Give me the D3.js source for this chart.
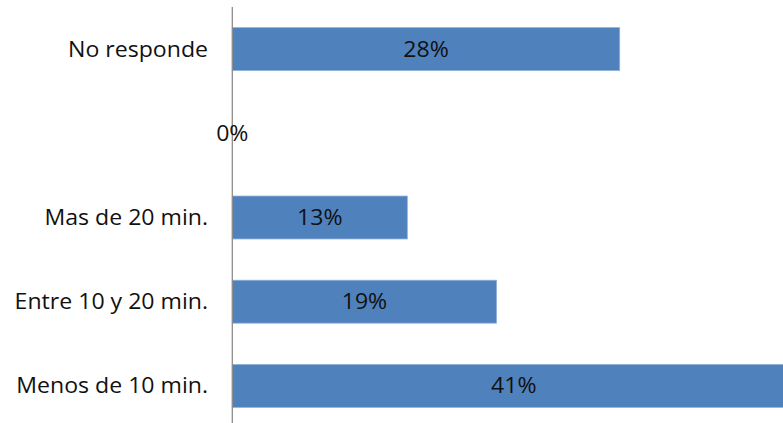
<!DOCTYPE html>
<html>
<head>
<meta charset="utf-8">
<script src="https://cdn.jsdelivr.net/npm/d3@7"></script>
<style>
  html, body { margin: 0; padding: 0; background: #fff; }
  svg { display: block; }
  text { font-family: "Open Sans", Lato, sans-serif; fill: #111; }
</style>
</head>
<body>
<svg id="chart" width="783" height="423"></svg>
<script>
const categories = ["No responde", "", "Mas de 20 min.", "Entre 10 y 20 min.", "Menos de 10 min."];
const values = [28.0, 0, 12.65, 19.1, 40.7];
const valueLabels = ["28%", "0%", "13%", "19%", "41%"];

const W = 783, H = 423;
const x0 = 232.3;
const sx = 1.1; // horizontal stretch of the source image text
const svg = d3.select("#chart");

const x = d3.scaleLinear().domain([0, 28]).range([x0, 619.7]);
const y = d3.scaleBand().domain(d3.range(categories.length)).range([7, 428])
  .paddingInner(0.49).paddingOuter(0.245);

const data = categories.map((c, i) => ({c, v: values[i], label: valueLabels[i], i}));

svg.append("defs").append("clipPath").attr("id", "clip")
  .append("rect").attr("x", 0).attr("y", 0).attr("width", W).attr("height", H);

const g = svg.append("g").attr("clip-path", "url(#clip)");

g.selectAll("rect.bar").data(data.filter(d => d.v > 0)).join("rect")
  .attr("class", "bar")
  .attr("x", x(0))
  .attr("y", d => y(d.i))
  .attr("width", d => x(d.v) - x(0))
  .attr("height", y.bandwidth())
  .attr("fill", "#4f81bd")
  .attr("stroke", "#8eb0da")
  .attr("stroke-width", 0.8);

// axis line
svg.append("line")
  .attr("x1", x0).attr("x2", x0)
  .attr("y1", 7).attr("y2", H)
  .attr("stroke", "#8c8c8c").attr("stroke-width", 1.3);

// category labels
svg.selectAll("text.cat").data(data).join("text")
  .attr("class", "cat")
  .attr("transform", d => `translate(208,${y(d.i) + y.bandwidth() / 2}) scale(${sx},1)`)
  .attr("dy", "0.36em")
  .attr("text-anchor", "end")
  .attr("font-size", 21)
  .text(d => d.c);

// value labels
svg.selectAll("text.val").data(data).join("text")
  .attr("class", "val")
  .attr("transform", d => `translate(${(x(0) + x(d.v)) / 2},${y(d.i) + y.bandwidth() / 2}) scale(${sx},1)`)
  .attr("dy", "0.36em")
  .attr("text-anchor", "middle")
  .attr("font-size", 21)
  .text(d => d.label);
</script>
</body>
</html>
